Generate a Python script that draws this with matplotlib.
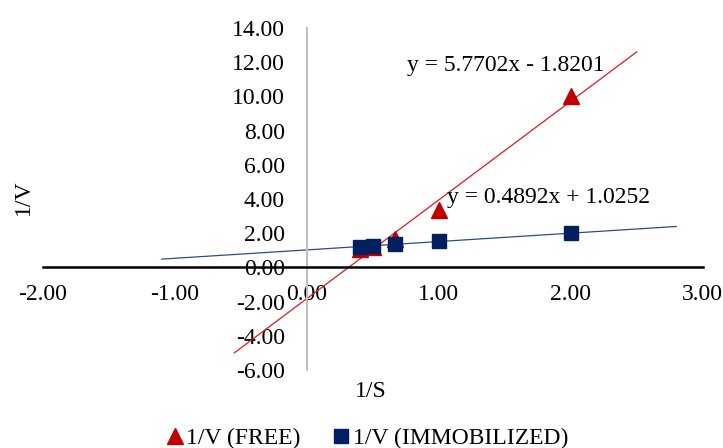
import matplotlib.pyplot as plt
import numpy as np

plt.rcParams['font.family'] = ['Liberation Serif', 'DejaVu Serif']
plt.rcParams['font.size'] = 17

# Lineweaver-Burk data
inv_s = [0.4, 0.5, 0.667, 1.0, 2.0]
inv_v_free = [1.05, 1.2, 1.65, 3.35, 10.0]
inv_v_immob = [1.22, 1.28, 1.38, 1.55, 2.0]

# trendline equations shown on the chart
free_fit = (5.7702, -1.8201)
immob_fit = (0.4892, 1.0252)
free_range = (-0.55, 2.5)
immob_range = (-1.1, 2.8)

red = '#C00000'
navy = '#002060'

fig = plt.figure(figsize=(7.23, 4.48), dpi=100)
ax = fig.add_axes([0.0595, 0.174, 0.9125, 0.7635])

xs = np.array(free_range)
ax.plot(xs, free_fit[0] * xs + free_fit[1], color='#E0191E', lw=0.9, zorder=2)
xs = np.array(immob_range)
ax.plot(xs, immob_fit[0] * xs + immob_fit[1], color='#2E4A8C', lw=0.9, zorder=2)

ax.plot(inv_s, inv_v_free, '^', color=red, ms=11, ls='none', label='1/V (FREE)', zorder=3)
ax.plot(inv_s, inv_v_immob, 's', color=navy, ms=10, ls='none', label='1/V (IMMOBILIZED)', zorder=4)

ax.text(0.76, 11.8, 'y = 5.7702x - 1.8201', ha='left', va='center')
ax.text(1.06, 4.1, 'y = 0.4892x + 1.0252', ha='left', va='center')

ax.set_xlim(-2, 3)
ax.set_ylim(-6, 14)
ax.set_xticks(np.arange(-2, 3.1, 1))
ax.set_yticks(np.arange(-6, 14.1, 2))
ax.xaxis.set_major_formatter(plt.FuncFormatter(lambda v, p: f'{v:.2f}'))
ax.yaxis.set_major_formatter(plt.FuncFormatter(lambda v, p: f'{v:.2f}'))

for s in ['top', 'right']:
    ax.spines[s].set_visible(False)
ax.spines['left'].set_position(('data', 0))
ax.spines['bottom'].set_position(('data', 0))
ax.spines['left'].set_color('#BFBFBF')
ax.spines['left'].set_linewidth(1.5)
ax.spines['bottom'].set_color('black')
ax.spines['bottom'].set_linewidth(1.8)
ax.tick_params(axis='both', length=0)
ax.tick_params(axis='x', pad=12)
ax.tick_params(axis='y', pad=16)

fig.text(0.513, 0.127, '1/S', ha='center', va='center')
fig.text(0.033, 0.56, '1/V', ha='center', va='center', rotation=90)

fig.legend(loc='center', bbox_to_anchor=(0.507, 0.022), ncol=2, frameon=False,
           handlelength=0.8, handletextpad=0.1, columnspacing=1.3)

fig.savefig('out.png', dpi=100)
